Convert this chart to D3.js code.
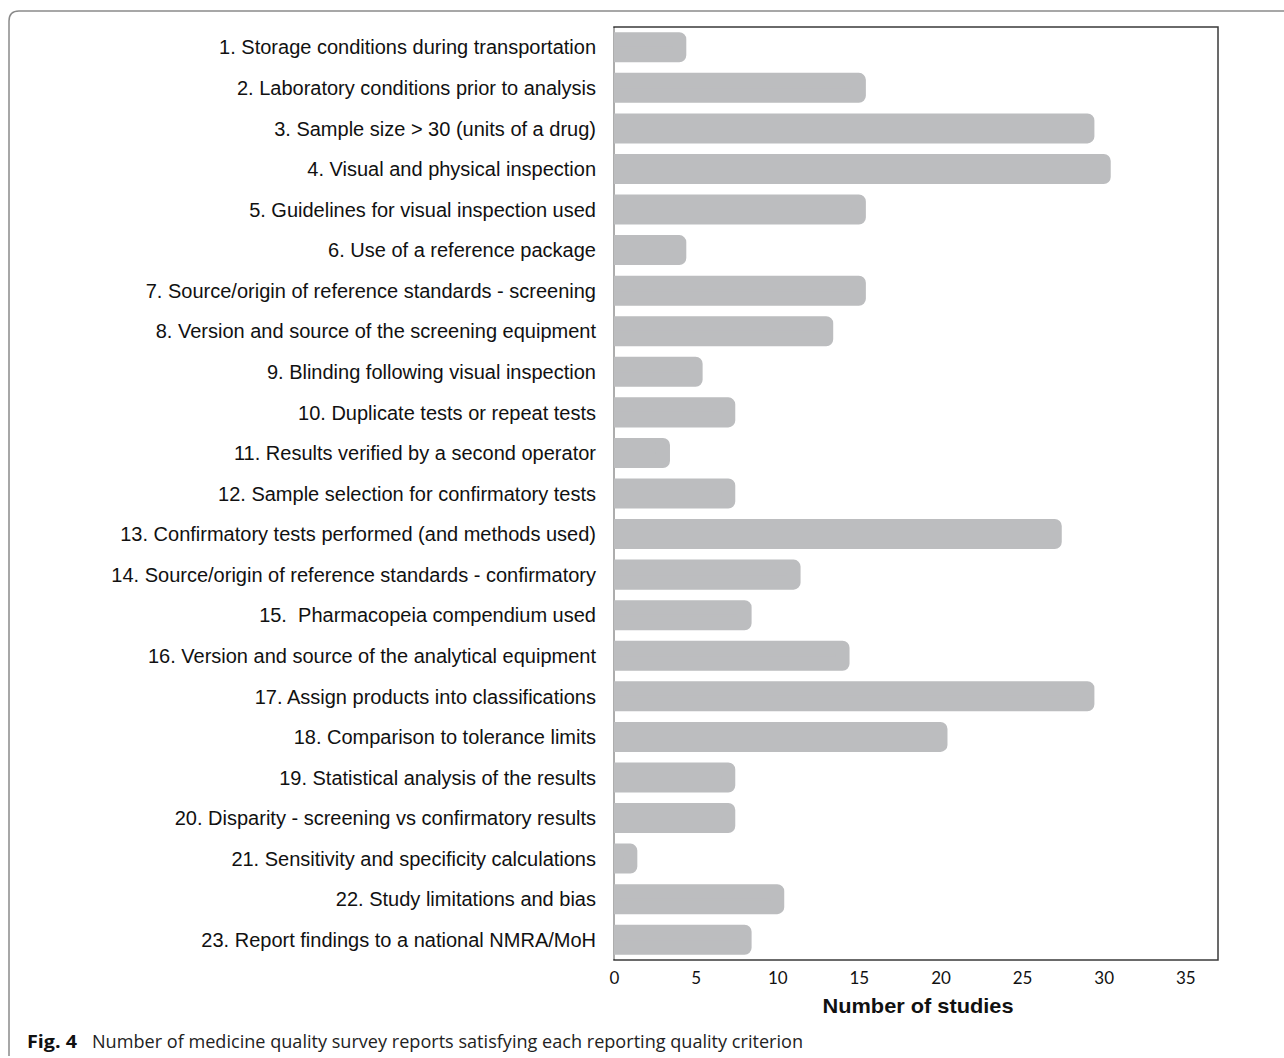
<!DOCTYPE html>
<html>
<head>
<meta charset="utf-8">
<script src="https://cdn.jsdelivr.net/npm/d3@7"></script>
<style>
  body { margin: 0; background: #fff; }
  svg { display: block; }
</style>
</head>
<body>
<div id="chart"></div>
<script>
// criteria, top to bottom
const criteria = [
  "1. Storage conditions during transportation",
  "2. Laboratory conditions prior to analysis",
  "3. Sample size > 30 (units of a drug)",
  "4. Visual and physical inspection",
  "5. Guidelines for visual inspection used",
  "6. Use of a reference package",
  "7. Source/origin of reference standards - screening",
  "8. Version and source of the screening equipment",
  "9. Blinding following visual inspection",
  "10. Duplicate tests or repeat tests",
  "11. Results verified by a second operator",
  "12. Sample selection for confirmatory tests",
  "13. Confirmatory tests performed (and methods used)",
  "14. Source/origin of reference standards - confirmatory",
  "15.  Pharmacopeia compendium used",
  "16. Version and source of the analytical equipment",
  "17. Assign products into classifications",
  "18. Comparison to tolerance limits",
  "19. Statistical analysis of the results",
  "20. Disparity - screening vs confirmatory results",
  "21. Sensitivity and specificity calculations",
  "22. Study limitations and bias",
  "23. Report findings to a national NMRA/MoH"
];
const studies = [4, 15, 29, 30, 15, 4, 15, 13, 5, 7, 3, 7, 27, 11, 8, 14, 29, 20, 7, 7, 1, 10, 8];
const xTicks = [0, 5, 10, 15, 20, 25, 30, 35];

const width = 1284, height = 1058;
const plot = {left: 614, right: 1218, top: 27, bottom: 960};

const svg = d3.select("#chart").append("svg")
  .attr("width", width)
  .attr("height", height);

// figure frame (rounded top-left corner)
svg.append("path")
  .attr("d", "M9,1056 V21 Q9,11 19,11 H1284")
  .attr("fill", "none")
  .attr("stroke", "#8a8a8a")
  .attr("stroke-width", 1.5);

const x = d3.scaleLinear().domain([0, 37]).range([plot.left, plot.right]);
const y = d3.scaleBand().domain(criteria).range([plot.top, plot.bottom])
  .paddingInner(0.26).paddingOuter(0.13);

// plot box
svg.append("rect")
  .attr("x", plot.left).attr("y", plot.top)
  .attr("width", plot.right - plot.left).attr("height", plot.bottom - plot.top)
  .attr("fill", "none")
  .attr("stroke", "#3a3a3a")
  .attr("stroke-width", 1.5);

svg.append("clipPath").attr("id", "clip")
  .append("rect")
  .attr("x", x(0)).attr("y", plot.top)
  .attr("width", plot.right - plot.left).attr("height", plot.bottom - plot.top);

// left axis line, light
svg.append("line")
  .attr("x1", x(0)).attr("x2", x(0))
  .attr("y1", plot.top + 1).attr("y2", plot.bottom - 1)
  .attr("stroke", "#c4c4c4")
  .attr("stroke-width", 1.5);

// bars: thick rounded outline gives the soft end caps
const cap = 7;
svg.append("g").attr("clip-path", "url(#clip)")
  .selectAll("rect")
  .data(criteria)
  .join("rect")
  .attr("x", x(0) - 20)
  .attr("y", d => y(d) + cap)
  .attr("width", (d, i) => x(studies[i]) - x(0) + 20)
  .attr("height", y.bandwidth() - 2 * cap)
  .attr("fill", "#bcbdbf")
  .attr("stroke", "#bcbdbf")
  .attr("stroke-width", 2 * cap)
  .attr("stroke-linejoin", "round");

// category labels
svg.append("g")
  .selectAll("text")
  .data(criteria)
  .join("text")
  .attr("x", 596)
  .attr("y", d => y(d) + y.bandwidth() / 2)
  .attr("dy", "0.36em")
  .attr("text-anchor", "end")
  .attr("font-family", "'Liberation Sans', Arial, sans-serif")
  .attr("font-size", 20)
  .attr("fill", "#111")
  .style("white-space", "pre")
  .text(d => d);

// x axis (no tick marks)
const xAxis = svg.append("g")
  .attr("transform", `translate(0,${plot.bottom})`)
  .call(d3.axisBottom(x).tickValues(xTicks).tickSize(0).tickPadding(12));
xAxis.select(".domain").remove();
xAxis.selectAll("text")
  .attr("font-family", "Lato, 'Open Sans', sans-serif")
  .attr("font-size", 17)
  .attr("fill", "#111");

svg.append("text")
  .attr("x", (plot.left + plot.right) / 2 + 2)
  .attr("y", 1013)
  .attr("text-anchor", "middle")
  .attr("font-family", "'Liberation Sans Narrow', 'Liberation Sans', Arial, sans-serif")
  .attr("font-weight", "bold")
  .attr("font-size", 21)
  .attr("textLength", 191)
  .attr("lengthAdjust", "spacingAndGlyphs")
  .attr("fill", "#111")
  .text("Number of studies");

// caption
svg.append("text")
  .attr("x", 27).attr("y", 1048)
  .attr("font-family", "'Open Sans', 'Noto Sans', sans-serif")
  .attr("font-weight", "bold")
  .attr("font-size", 18)
  .attr("textLength", 50)
  .attr("lengthAdjust", "spacingAndGlyphs")
  .attr("fill", "#111")
  .text("Fig. 4");

svg.append("text")
  .attr("x", 92).attr("y", 1048)
  .attr("font-family", "'Open Sans', 'Noto Sans', sans-serif")
  .attr("font-size", 18)
  .attr("textLength", 711)
  .attr("lengthAdjust", "spacingAndGlyphs")
  .attr("fill", "#222")
  .text("Number of medicine quality survey reports satisfying each reporting quality criterion");
</script>
</body>
</html>
